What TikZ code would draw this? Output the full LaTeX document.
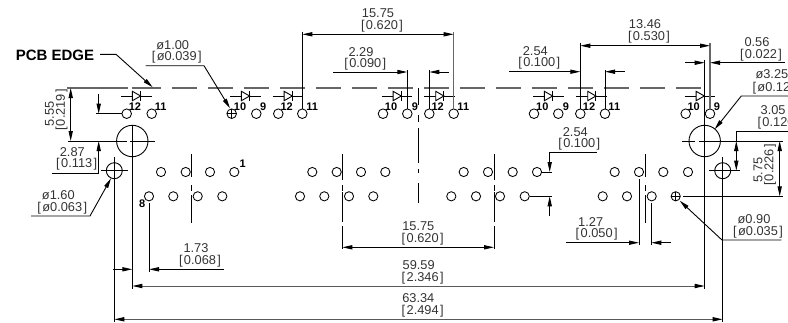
\documentclass[tikz,border=0pt]{standalone}
\usepackage{fontspec}
\setmainfont{Liberation Sans}
\usetikzlibrary{arrows.meta}
\newcommand{\Br}[1]{[\kern1.4pt#1\kern1.4pt]}
\tikzset{
  x=1pt,y=-1pt,
  ln/.style={line width=0.9pt,black},
  gr/.style={line width=1.1pt,black!60},
  dim/.style={ln,{Triangle[length=10pt,width=4.2pt]}-},
  dimb/.style={ln,{Triangle[length=10pt,width=4.2pt]}-{Triangle[length=10pt,width=4.2pt]}},
  dimg/.style={line width=1pt,black!65,{Triangle[length=10pt,width=4.2pt,black]}-{Triangle[length=10pt,width=4.2pt,black]}},
  hole/.style={ln,line width=0.85pt},
  txt/.style={font=\fontsize{12.8}{14}\selectfont,inner sep=0pt,text=black!80},
  pin/.style={font=\fontsize{11}{12}\selectfont\bfseries,inner sep=0pt},
}
\begin{document}
\begin{tikzpicture}
\useasboundingbox (0,0) rectangle (788,322);
\clip (0,0) rectangle (788,322);
% PCB edge
\draw[gr] (67,88) -- (128,88) (132,88) -- (161,88);
\foreach \s in {172,208,244,280,316,352,388,424,460,496,532,568,604,640,676}
  \draw[gr] (\s,88) -- ({\s+25},88);
% diodes
\foreach \s in {121,230,272.7,381.7,424.3,533,576.3,684.7}{
  \draw[ln] (\s,96) -- ({\s+30.6},96);
  \draw[ln,fill=white] ({\s+11.4},91.3) -- ({\s+19.6},96) -- ({\s+11.4},100.7) -- cycle;
  \draw[ln] ({\s+19.6},91.3) -- ({\s+19.6},100.7);
}
% top holes
\foreach \x in {126.7,151.7,231.7,256.3,278.3,302.3,383,407.3,429.3,453.7,534,558.3,580.3,605,685.7,710}
  \draw[hole] (\x,113.7) circle (4.8);
\draw[ln] (226.9,113.7) -- (236.5,113.7) (231.7,108.9) -- (231.7,118.5);
% pin labels
\foreach \x/\t in {135/12,160.7/11,240/10,263.3/9,286.7/12,312.3/11,391/10,415/9,437.7/12,463.3/11,542.3/10,566/9,589/12,614.3/11,693.7/10,717/9}
  \node[pin] at (\x,106.6) {\t};
\node[pin] at (242.7,164) {1};
\node[pin] at (142.3,204) {8};
% bottom holes
\foreach \x in {161,185.7,210,234.3,312.3,336.7,361,385.3,463.7,488,512.7,537,614.7,639,663.3,688}
  \draw[hole] (\x,172) circle (4.6);
\foreach \x in {149,173.3,197.7,222.3,300,324.3,349,373.3,451.3,476,500,524.7,602.7,627,651.7,675.7}
  \draw[hole] (\x,196.3) circle (4.6);
\draw[ln] (671,196.3) -- (680.4,196.3) (675.7,191.7) -- (675.7,201);
% large and small circles
\draw[ln] (132.3,141) circle (15.7);
\draw[ln] (704.7,141) circle (15.7);
\draw[ln] (114.3,170.7) circle (8);
\draw[ln] (722.7,170.7) circle (8);
% centre lines
\draw[ln] (132.3,125) -- (132.3,289);
\draw[ln] (68,141) -- (127,141) (130,141) -- (155,141);
\draw[ln] (704.7,60) -- (704.7,289);
\draw[ln] (682,141) -- (695,141) (699,141) -- (783,141);
\draw[ln] (114.3,157) -- (114.3,322);
\draw[ln] (101,170.7) -- (127.7,170.7);
\draw[ln] (722.7,157) -- (722.7,322);
\draw[ln] (709,170.7) -- (739.7,170.7);
% dash-dot axes
\draw[ln] (191.5,154) -- (191.5,177) (191.5,185) -- (191.5,191) (191.5,195) -- (191.5,223);
\draw[ln] (645.3,154) -- (645.3,177) (645.3,185) -- (645.3,191) (645.3,195) -- (645.3,223);
\draw[ln] (342.3,154) -- (342.3,180) (342.3,185) -- (342.3,191) (342.3,192) -- (342.3,222) (342.3,226) -- (342.3,249);
\draw[ln] (494,154) -- (494,180) (494,185) -- (494,191) (494,192) -- (494,222) (494,226) -- (494,249);
\draw[ln] (418.3,88) -- (418.3,105) (418.3,115) -- (418.3,122) (418.3,128) -- (418.3,163) (418.3,169) -- (418.3,173) (418.3,183) -- (418.3,203);
% extension lines
\draw[ln] (302.3,31.5) -- (302.3,108.9);
\draw[gr] (453.7,31.5) -- (453.7,108.9);
\draw[ln] (407.3,70) -- (407.3,108.9);
\draw[ln] (429.3,70) -- (429.3,108.9);
\draw[ln] (580.3,42.5) -- (580.3,108.9);
\draw[ln] (605,70) -- (605,108.9);
\draw[gr] (710,42.5) -- (710,108.9);
\draw[ln] (149,203.3) -- (149,272.3);
\draw[ln] (639,179) -- (639,245.3);
\draw[ln] (651.3,203.3) -- (651.3,245.3);
\draw[ln] (96,113.7) -- (121.9,113.7);
\draw[ln] (51.7,173) -- (98.7,173);
\draw[ln] (736.3,131.7) -- (788,131.7);
\draw[ln] (683,196.3) -- (783,196.3);
\draw[ln] (542,172) -- (552.3,172);
\draw[ln] (529.7,196.3) -- (552.3,196.3);
% dimensions
\draw[dimb] (302.3,34.3) -- (453.7,34.3);
\draw[dimb] (580.3,45.7) -- (710,45.7);
\draw[dimb] (342.3,247.3) -- (494,247.3);
\draw[dimg] (132.3,286) -- (704.7,286);
\draw[dimg] (114.3,319.3) -- (722.7,319.3);
\draw[dim] (407.3,72) -- (333.3,72);
\draw[dim] (429.3,72) -- (448.7,72);
\draw[dim] (580.3,71.7) -- (509.3,71.7);
\draw[dim] (605,71.7) -- (624.7,71.7);
\draw[dim] (704.7,62.7) -- (684.7,62.7);
\draw[dim] (710,62.7) -- (785.3,62.7);
\draw[dimb] (70.7,88) -- (70.7,141);
\draw[dim] (98.7,113.7) -- (98.7,94.3);
\draw[dim] (98.7,141) -- (98.7,173);
\draw[ln] (736.3,131.7) -- (736.3,141);
\draw[dimb] (736.3,141) -- (736.3,170.7);
\draw[dimb] (779.7,141) -- (779.7,196.3);
\draw[dim] (132.3,269.3) -- (113.3,269.3);
\draw[dim] (149,269.3) -- (224.3,269.3);
\draw[dim] (549.7,172) -- (549.7,152.7) -- (597,152.7);
\draw[dim] (549.7,196.3) -- (549.7,216);
\draw[dim] (639,242.7) -- (565.7,242.7);
\draw[dim] (651.3,242.7) -- (670.7,242.7);
% leaders
\draw[dim] (152.7,87.3) -- (116,54.3) -- (100,54.3);
\draw[dim] (230,108.3) -- (204,65.7) -- (145.7,65.7);
\draw[dim] (714.7,129.3) -- (741.3,96) -- (788,96);
\draw[dim] (679.7,200.7) -- (722,240) -- (781.3,240);
\draw[dim] (111,178.3) -- (90,216) -- (31,216);
% texts
\node[font=\fontsize{15}{17}\selectfont\bfseries,inner sep=0pt] at (55,55) {PCB EDGE};
\foreach \x/\y/\t in {
  378/13.3/15.75, 382/25.7/{\Br{0.620}},
  361/51.7/2.29, 365.3/64/{\Br{0.090}},
  535.3/50.7/2.54, 539.3/63.3/{\Br{0.100}},
  645/24.3/13.46, 649/36.7/{\Br{0.530}},
  757/42.3/0.56, 761/54.7/{\Br{0.022}},
  172.7/45/ø1.00, 176.7/57.3/{\Br{ø0.039}},
  72.3/151.7/2.87, 76.7/164/{\Br{0.113}},
  575.3/131.7/2.54, 579.3/144/{\Br{0.100}},
  196/248.3/1.73, 200/261/{\Br{0.068}},
  418.7/265/59.59, 422.7/277.7/{\Br{2.346}},
  418.3/297.7/63.34, 422.7/310.7/{\Br{2.494}},
  418.3/226/15.75, 422.7/238.7/{\Br{0.620}},
  590.7/221.7/1.27, 596.7/234.3/{\Br{0.050}},
  754/219.3/ø0.90, 758/231.7/{\Br{ø0.035}},
  58.3/195/ø1.60, 62.3/207.7/{\Br{ø0.063}}}
  \node[txt] at (\x,\y) {\t};
\node[txt,anchor=west] at (755.3,74.3) {ø3.25};
\node[txt,anchor=west] at (752.3,87.7) {\Br{ø0.128}};
\node[txt,anchor=west] at (760.5,110.3) {3.05};
\node[txt,anchor=west] at (757.3,123) {\Br{0.120}};
\node[txt,rotate=90] at (49.6,114) {5.55};
\node[txt,rotate=90] at (61.5,110) {\Br{0.219}};
\node[txt,rotate=90] at (758,170) {5.75};
\node[txt,rotate=90] at (770,165) {\Br{0.226}};
\end{tikzpicture}
\end{document}
